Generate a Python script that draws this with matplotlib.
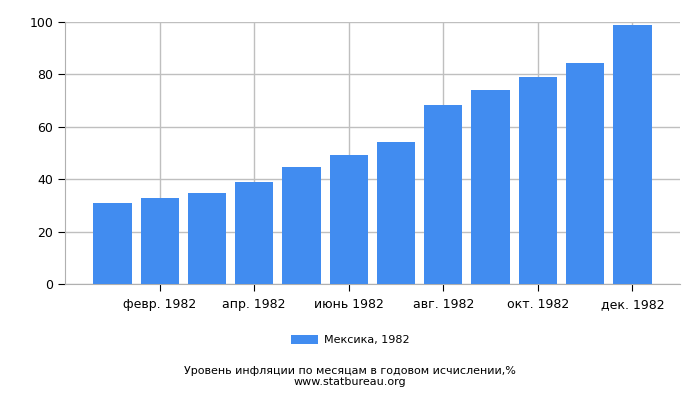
import numpy as np
import matplotlib
matplotlib.use('Agg')
import matplotlib.pyplot as plt

### Data
months = ['янв. 1982', 'февр. 1982', 'март 1982', 'апр. 1982', 'май 1982', 'июнь 1982',
          'июль 1982', 'авг. 1982', 'сент. 1982', 'окт. 1982', 'нояб. 1982', 'дек. 1982']
inflation = [30.8, 32.7, 34.6, 38.8, 44.6, 49.2, 54.2, 68.3, 74.1, 79.1, 84.4, 99.0]
series_label = 'Мексика, 1982'
yticks = [0, 20, 40, 60, 80, 100]

plt.rcParams['font.family'] = ['DejaVu Sans']

fig = plt.figure(figsize=(7, 4), dpi=100)
ax = fig.add_axes([0.093, 0.29, 0.878, 0.655])

xpts = np.arange(len(months))
ax.bar(xpts, inflation, width=0.81, color='#418cf0', label=series_label, zorder=3)

ax.set_xlim(-1, 12)
ax.set_ylim(0, 100)
ax.set_yticks(yticks)
ax.set_xticks(xpts[1::2])
ax.set_xticklabels(months[1::2])
ax.tick_params(axis='both', labelsize=9, length=5, color='black')
ax.tick_params(axis='x', pad=5)

ax.grid(True, color='#bfbfbf', linewidth=1, zorder=0)
for side in ['top', 'right']:
	ax.spines[side].set_visible(False)
for side in ['left', 'bottom']:
	ax.spines[side].set_color('#b0b0b0')

fig.legend(loc='center', bbox_to_anchor=(0.5, 0.15), frameon=False, fontsize=8,
           handlelength=2.5, handleheight=0.9, handletextpad=0.5)
fig.text(0.5, 0.072, 'Уровень инфляции по месяцам в годовом исчислении,%',
         ha='center', va='center', fontsize=8)
fig.text(0.5, 0.045, 'www.statbureau.org', ha='center', va='center', fontsize=8)

fig.savefig('out.png', dpi=100)
